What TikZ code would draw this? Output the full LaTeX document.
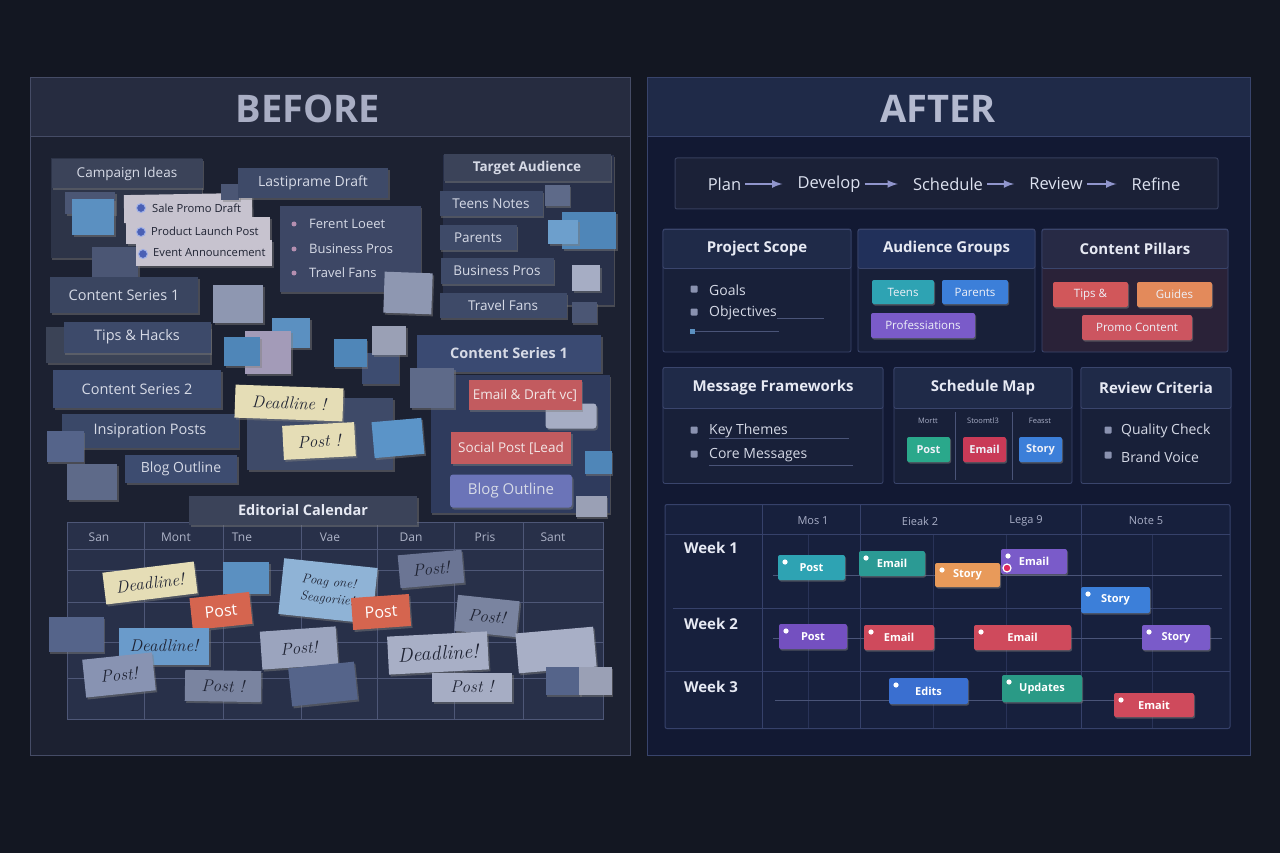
\documentclass[tikz,border=0pt]{standalone}
\usepackage{fontspec}
\setsansfont{Open Sans}
\renewcommand{\familydefault}{\sfdefault}
\usepackage{xcolor}
\usetikzlibrary{shapes,arrows,positioning,calc,shadows,fit}

\definecolor{bg}{HTML}{131722}
\definecolor{bbody}{HTML}{1C2131}
\definecolor{bhead}{HTML}{262C40}
\definecolor{bline}{HTML}{454C66}
\definecolor{btitle}{HTML}{A9AEC4}
\definecolor{abody}{HTML}{121933}
\definecolor{ahead}{HTML}{1F2A48}
\definecolor{aline}{HTML}{38446C}
\definecolor{atitle}{HTML}{B3B9CF}
\definecolor{slate}{HTML}{3B4359}
\definecolor{slatedk}{HTML}{2D3448}
\definecolor{slatedk2}{HTML}{283049}
\definecolor{slateg}{HTML}{3B4356}
\definecolor{navyA}{HTML}{3E4A68}
\definecolor{navyB}{HTML}{3D4C70}
\definecolor{navyC}{HTML}{3A4A72}
\definecolor{navyD}{HTML}{3D4765}
\definecolor{navyE}{HTML}{3A4560}
\definecolor{navyF}{HTML}{3D4A6A}
\definecolor{navyG}{HTML}{3A4868}
\definecolor{navyH}{HTML}{2F3B5D}
\definecolor{dusk}{HTML}{4B5674}
\definecolor{dusk2}{HTML}{5E6A89}
\definecolor{dusk3}{HTML}{55648A}
\definecolor{sky}{HTML}{5B90C1}
\definecolor{sky2}{HTML}{5B94C8}
\definecolor{skylt}{HTML}{6D9FCC}
\definecolor{skydk}{HTML}{4F86B8}
\definecolor{fog}{HTML}{8E97B1}
\definecolor{foglt}{HTML}{A6ADC4}
\definecolor{foggray}{HTML}{9AA0B5}
\definecolor{paper}{HTML}{C7C3CF}
\definecolor{cream}{HTML}{E5DDB6}
\definecolor{rose}{HTML}{C25B5F}
\definecolor{rosetext}{HTML}{F2E6E6}
\definecolor{coral}{HTML}{D5654F}
\definecolor{lilac}{HTML}{A39BB8}
\definecolor{periw}{HTML}{6B74B8}
\definecolor{gridfill}{HTML}{283049}
\definecolor{gridline}{HTML}{4E5777}
\definecolor{tagtext}{HTML}{D6DAE6}
\definecolor{ink}{HTML}{1F2333}
\definecolor{pink}{HTML}{B58FB0}
\definecolor{iconblue}{HTML}{4A60B5}
\definecolor{iconrim}{HTML}{9FB0E8}
\definecolor{daytext}{HTML}{AEB4C8}
\definecolor{notegray}{HTML}{6B7594}
\definecolor{notegray2}{HTML}{7A84A0}
\definecolor{notelt}{HTML}{9BA4BE}
\definecolor{noteltr}{HTML}{A8AFC6}
\definecolor{noteblue}{HTML}{6A9BCB}
\definecolor{notesky}{HTML}{8FB3D6}
\definecolor{notebl}{HTML}{8893B2}
\definecolor{cardbody}{HTML}{182039}
\definecolor{cardhead}{HTML}{1F2A48}
\definecolor{cardline}{HTML}{3A456C}
\definecolor{audhead}{HTML}{21305A}
\definecolor{pillbody}{HTML}{2A2238}
\definecolor{pillhead}{HTML}{272A45}
\definecolor{cardtitle}{HTML}{E6E9F3}
\definecolor{textlt}{HTML}{D5D9E6}
\definecolor{bulletc}{HTML}{8A92B0}
\definecolor{chiptext}{HTML}{EEF0F8}
\definecolor{barfill}{HTML}{1B2137}
\definecolor{barline}{HTML}{363E5C}
\definecolor{stagetext}{HTML}{DDE2F0}
\definecolor{flowline}{HTML}{9095CC}
\definecolor{ganttfill}{HTML}{17203D}
\definecolor{ganttline}{HTML}{36416A}
\definecolor{track}{HTML}{4A5478}
\definecolor{headtext}{HTML}{AAB0C8}
\definecolor{hotpink}{HTML}{E0285A}
\definecolor{chteal}{HTML}{2EA3B3}
\definecolor{chteal2}{HTML}{2B9A94}
\definecolor{chblue}{HTML}{3C7FD9}
\definecolor{chblue2}{HTML}{3A6FD0}
\definecolor{chpurple}{HTML}{7A5BC9}
\definecolor{chviolet}{HTML}{7450C0}
\definecolor{chred}{HTML}{D1575A}
\definecolor{chred2}{HTML}{CF4A5C}
\definecolor{chorange}{HTML}{E38A5B}
\definecolor{chorange2}{HTML}{E89A5A}
\definecolor{chrose}{HTML}{CC5560}
\definecolor{chgreen}{HTML}{2AA88B}
\definecolor{chgreen2}{HTML}{2A9A86}
\definecolor{chcrimson}{HTML}{C93A57}

\newcommand{\fsz}[1]{\fontsize{#1}{#1}\selectfont}
\newcommand{\handfont}{\rmfamily\itshape}

\tikzset{
    sz/.style 2 args={minimum width=#1pt, minimum height=#2pt},
    panel/.style={inner sep=0pt, line width=1pt},
    scrap/.style={inner sep=0pt, drop shadow={opacity=0.45, shadow xshift=1.5pt, shadow yshift=-2pt}},
    tag/.style={scrap, text=tagtext, font=\fsz{13.5}},
    hand/.style={scrap, text=ink, font=\handfont\fsz{17}},
    listtxt/.style={anchor=west, inner sep=0pt, text=ink, font=\fsz{11.2}},
    fanstxt/.style={anchor=west, inner sep=0pt, text=tagtext, font=\fsz{13}},
    icon/.style={circle, fill=iconblue, draw=iconrim, line width=1pt, minimum size=9pt, inner sep=0pt},
    heart/.style={circle, fill=pink, minimum size=5pt, inner sep=0pt},
    dayname/.style={inner sep=0pt, text=daytext, font=\fsz{12}},
    calline/.style={draw=gridline, line width=0.8pt},
    card/.style={draw=cardline, fill=cardbody, rounded corners=2pt, inner sep=0pt, line width=0.8pt},
    cardhd/.style={card, fill=cardhead, text=cardtitle, font=\bfseries\fsz{15}},
    chip/.style={inner sep=0pt, rounded corners=2pt, text=chiptext, font=\fsz{11.5},
        drop shadow={opacity=0.5, shadow xshift=1pt, shadow yshift=-1.5pt}},
    bullet/.style={fill=bulletc, rounded corners=1pt, minimum size=7pt, inner sep=0pt},
    item/.style={anchor=west, inner sep=0pt, text=textlt, font=\fsz{14}},
    stage/.style={inner sep=0pt, text=stagetext, font=\fsz{16.5}},
    flow/.style={-latex, draw=flowline, line width=2.5pt, shorten <=4pt, shorten >=15pt},
    gline/.style={draw=ganttline, line width=0.8pt},
    coltxt/.style={inner sep=0pt, text=headtext, font=\fsz{11}},
    week/.style={inner sep=0pt, text=cardtitle, font=\bfseries\fsz{15}},
    bar/.style={chip, text=white, font=\bfseries\fsz{11},
        path picture={\fill[white] ([xshift=7pt,yshift=-7pt]path picture bounding box.north west) circle (2.6pt);}}
}

\begin{document}
\begin{tikzpicture}[x=1pt, y=-1pt]
    \useasboundingbox (0,0) rectangle (1280,853);
    \fill[bg] (0,0) rectangle (1280,853);

    % ---------------- before
    \node[panel, draw=bline, fill=bbody, sz={600}{677}] (bpanel) at (330,416.5) {};
    \node[panel, draw=bline, fill=bhead, sz={600}{59}] (bhead) at (330,107.5) {};
    \node[inner sep=0pt, text=btitle, font=\bfseries\fsz{38}] (btitle) at (308,109) {BEFORE};

    % campaign ideas
    \node[scrap, fill=slatedk, sz={151}{100}] (ideasbk) at (126,208) {};
    \node[tag, fill=slate, sz={151}{29}] (ideas) at (127,174) {Campaign Ideas};
    \node[scrap, fill=dusk, sz={50}{22}] (sqA) at (90,203) {};
    \node[scrap, fill=sky, sz={42}{36}] (sqB) at (93,217) {};
    \node[scrap, fill=dusk, sz={46}{34}] (sqC) at (115,264) {};
    \node[scrap, fill=paper, sz={128}{28}, rotate=1] (draftA) at (188,208) {};
    \node[scrap, fill=paper, sz={144}{27}] (draftB) at (198,231) {};
    \node[scrap, fill=paper, sz={136}{26}] (draftC) at (204,253) {};
    \node[icon] (iconA) at (141,208) {};
    \node[icon] (iconB) at (141,232) {};
    \node[icon] (iconC) at (143,254) {};
    \node[listtxt] (saleA) at (152,208) {Sale Promo Draft};
    \node[listtxt] (saleB) at (151,231) {Product Launch Post};
    \node[listtxt] (saleC) at (153,253) {Event Announcement};

    % lastiprame draft
    \node[scrap, fill=dusk, sz={18}{16}] (sqD) at (230,192) {};
    \node[tag, fill=navyA, sz={150}{30}, font=\fsz{14}] (lastdraft) at (313,183) {Lastiprame Draft};
    \node[scrap, fill=navyD, sz={141}{86}] (fansbox) at (350,249) {};
    \node[heart] (hA) at (294,224) {};
    \node[heart] (hB) at (294,249) {};
    \node[heart] (hC) at (294,273) {};
    \node[fanstxt] (ferent) at (309,224) {Ferent Loeet};
    \node[fanstxt] (bizA) at (309,249) {Business Pros};
    \node[fanstxt] (travelA) at (309,273) {Travel Fans};
    \node[scrap, fill=fog, sz={48}{41}, rotate=-2] (sqE) at (408,293) {};

    % target audience
    \node[scrap, fill=slatedk2, sz={171}{150}] (audbk) at (528,230) {};
    \node[tag, fill=slate, sz={167}{27}, font=\bfseries\fsz{13.5}] (target) at (527,168) {Target Audience};
    \node[tag, fill=navyA, sz={103}{25}] (teens) at (491,204) {Teens Notes};
    \node[scrap, fill=dusk2, sz={25}{21}] (sqF) at (557,196) {};
    \node[tag, fill=navyA, sz={77}{25}] (parentsA) at (478,238) {Parents};
    \node[scrap, fill=skydk, sz={54}{37}] (sqG) at (589,231) {};
    \node[scrap, fill=skylt, sz={30}{24}] (sqH) at (563,232) {};
    \node[tag, fill=navyA, sz={113}{25}] (bizB) at (497,271) {Business Pros};
    \node[scrap, fill=foglt, sz={28}{25}] (sqI) at (586,278) {};
    \node[tag, fill=navyA, sz={127}{25}] (travelB) at (503,305) {Travel Fans};
    \node[scrap, fill=dusk, sz={25}{21}] (sqJ) at (584,312) {};

    % left column
    \node[tag, fill=navyE, sz={148}{36}, font=\fsz{14.5}] (seriesA) at (124,295) {Content Series 1};
    \node[scrap, fill=fog, sz={50}{38}] (sqK) at (238,304) {};
    \node[scrap, fill=slateg, sz={164}{36}] (tipsbk) at (128,345) {};
    \node[tag, fill=navyF, sz={147}{31}, font=\fsz{14.5}] (tips) at (137,337) {Tips \& Hacks};
    \node[scrap, fill=sky, sz={38}{30}] (sqL) at (291,333) {};
    \node[scrap, fill=lilac, sz={46}{43}] (sqM) at (268,352) {};
    \node[scrap, fill=skydk, sz={36}{29}] (sqN) at (242,351) {};
    \node[tag, fill=navyB, sz={168}{38}, font=\fsz{14.5}] (seriesB) at (137,389) {Content Series 2};
    \node[tag, fill=navyG, sz={177}{34}, font=\fsz{14.5}] (inspire) at (150,431) {Insipration Posts};
    \node[scrap, fill=dusk3, sz={37}{31}] (sqO) at (65,446) {};
    \node[tag, fill=navyB, sz={112}{28}, font=\fsz{14}] (blogA) at (181,469) {Blog Outline};
    \node[scrap, fill=dusk2, sz={50}{36}] (sqP) at (92,482) {};

    % deadline cluster
    \node[scrap, fill=navyA, sz={146}{72}] (postbk) at (320,434) {};
    \node[scrap, fill=navyB, sz={37}{31}] (sqQ) at (380,368) {};
    \node[scrap, fill=skydk, sz={33}{28}] (sqR) at (350,353) {};
    \node[scrap, fill=foggray, sz={34}{29}] (sqS) at (389,340) {};
    \node[hand, fill=cream, sz={108}{33}, rotate=-2] (deadA) at (289,403) {Deadline !};
    \node[hand, fill=cream, sz={72}{34}, rotate=3] (postA) at (319,441) {Post !};
    \node[scrap, fill=sky2, sz={50}{36}, rotate=5] (sqT) at (398,438) {};

    % content series 1, right
    \node[scrap, fill=navyH, sz={179}{138}] (seriesbk) at (520,444) {};
    \node[tag, fill=navyC, sz={184}{37}, font=\bfseries\fsz{14.5}] (seriesC) at (509,353) {Content Series 1};
    \node[scrap, fill=dusk2, sz={44}{40}] (sqU) at (432,388) {};
    \node[scrap, fill=foglt, sz={51}{25}, rounded corners=3pt] (sqV) at (571,416) {};
    \node[tag, fill=rose, sz={113}{30}, text=rosetext] (emaildraft) at (525,395) {Email \& Draft vc]};
    \node[tag, fill=rose, sz={120}{32}, text=rosetext] (social) at (511,448) {Social Post [Lead};
    \node[scrap, fill=skydk, sz={27}{23}] (sqW) at (598,462) {};
    \node[tag, fill=periw, sz={122}{33}, rounded corners=3pt, font=\fsz{15}] (blogB) at (511,491) {Blog Outline};
    \node[scrap, fill=foggray, sz={31}{21}] (sqX) at (591,506) {};

    % editorial calendar
    \node[panel, draw=gridline, fill=gridfill, sz={536}{197}] (cal) at (335,620.5) {};
    \draw[calline] (144,522) -- (144,719) (223,522) -- (223,719) (301,522) -- (301,719)
        (377,522) -- (377,719) (454,522) -- (454,719) (523,522) -- (523,719);
    \draw[calline] (67,549) -- (603,549) (67,570) -- (603,570) (67,602) -- (603,602)
        (67,642) -- (603,642) (67,678) -- (603,678);
    \node[tag, fill=slate, sz={228}{29}, font=\bfseries\fsz{14.5}, text=cardtitle] (calname) at (303,510) {Editorial Calendar};
    \node[dayname] (dSun) at (99,537) {San};
    \node[dayname] (dMon) at (176,537) {Mont};
    \node[dayname] (dTue) at (242,537) {Tne};
    \node[dayname] (dWed) at (330,537) {Vae};
    \node[dayname] (dThu) at (411,537) {Dan};
    \node[dayname] (dFri) at (485,537) {Pris};
    \node[dayname] (dSat) at (553,537) {Sant};

    \node[scrap, fill=sky, sz={46}{32}] (sqY) at (246,578) {};
    \node[hand, fill=cream, sz={92}{32}, rotate=7] (deadB) at (150,583) {Deadline!};
    \node[hand, fill=notesky, sz={94}{56}, rotate=-6, align=center, font=\handfont\fontsize{13}{17}\selectfont] (blogC) at (328,591) {Poag one!\\Seagoriie!};
    \node[hand, fill=notegray, sz={64}{33}, rotate=5] (postB) at (431,569) {Post!};
    \node[scrap, fill=coral, sz={60}{32}, rotate=6, text=white, font=\fsz{16}] (postC) at (221,611) {Post};
    \node[scrap, fill=coral, sz={58}{32}, rotate=4, text=white, font=\fsz{16}] (postD) at (381,612) {Post};
    \node[hand, fill=notegray2, sz={62}{36}, rotate=-6] (postE) at (487,616) {Post!};
    \node[scrap, fill=dusk3, sz={55}{35}] (sqZ) at (76,634) {};
    \node[hand, fill=noteblue, sz={90}{37}] (deadC) at (164,646) {Deadline!};
    \node[hand, fill=notelt, sz={76}{38}, rotate=4] (postF) at (299,648) {Post!};
    \node[hand, fill=noteltr, sz={100}{38}, rotate=3, font=\handfont\fsz{20}] (deadD) at (438,653) {Deadline!};
    \node[scrap, fill=noteltr, sz={78}{40}, rotate=5] (sqAA) at (556,650) {};
    \node[hand, fill=notebl, sz={70}{38}, rotate=6] (postG) at (119,675) {Post!};
    \node[hand, fill=notegray2, sz={76}{31}, rotate=-1] (postH) at (223,686) {Post !};
    \node[scrap, fill=dusk3, sz={66}{38}, rotate=6] (sqAB) at (323,684) {};
    \node[hand, fill=foglt, sz={80}{29}] (postI) at (472,687) {Post !};
    \node[scrap, fill=dusk3, sz={35}{28}] (sqAC) at (563,681) {};
    \node[scrap, fill=foggray, sz={33}{28}] (sqAD) at (595,681) {};

    % ---------------- after
    \node[panel, draw=aline, fill=abody, sz={603}{677}] (apanel) at (948.5,416.5) {};
    \node[panel, draw=aline, fill=ahead, sz={603}{59}] (ahead) at (948.5,107.5) {};
    \node[inner sep=0pt, text=atitle, font=\bfseries\fsz{38}] (atitle) at (938,109) {AFTER};

    % process bar
    \node[panel, draw=barline, fill=barfill, sz={543}{51}, rounded corners=2pt] (procbar) at (946.5,183.5) {};
    \node[stage] (plan) at (724.5,184) {Plan};
    \node[stage] (develop) at (829,184) {Develop};
    \node[stage] (schedule) at (948,184) {Schedule};
    \node[stage] (review) at (1056,184) {Review};
    \node[stage] (refine) at (1156,184) {Refine};
    \draw[flow] (plan) -- (develop);
    \draw[flow] (develop) -- (schedule);
    \draw[flow] (schedule) -- (review);
    \draw[flow] (review) -- (refine);

    % project scope
    \node[card, sz={188}{123}] (scopebox) at (757,290.5) {};
    \node[cardhd, sz={188}{39}] (scope) at (757,249) {Project Scope};
    \node[bullet] (bGoals) at (694,289) {};
    \node[bullet] (bObj) at (694,312) {};
    \node[item] (goals) at (709,290) {Goals};
    \node[item] (objectives) at (709,313) {Objectives};
    \draw[track] (objectives.east |- 0,318) -- (824,318);
    \node[fill=sky, minimum size=5pt, inner sep=0pt] (bMore) at (692,331) {};
    \draw[track] (bMore) -- (779,331);

    % audience groups
    \node[card, sz={177}{123}] (audbox) at (946.5,290.5) {};
    \node[cardhd, fill=audhead, sz={177}{39}] (audience) at (946.5,249) {Audience Groups};
    \node[chip, fill=chteal, sz={62}{24}] (teensB) at (903,292) {Teens};
    \node[chip, fill=chblue, sz={66}{24}] (parentsB) at (975,292) {Parents};
    \node[chip, fill=chpurple, sz={104}{25}] (profs) at (923,325.5) {Professiations};

    % content pillars
    \node[card, fill=pillbody, sz={186}{123}] (pillbox) at (1135,290.5) {};
    \node[cardhd, fill=pillhead, sz={186}{39}] (pillars) at (1135,249) {Content Pillars};
    \node[chip, fill=chred, sz={75}{25}] (tipsB) at (1090.5,294.5) {Tips \&};
    \node[chip, fill=chorange, sz={75}{25}] (guides) at (1174.5,294.5) {Guides};
    \node[chip, fill=chrose, sz={110}{25}] (promo) at (1137,327.5) {Promo Content};

    % message frameworks
    \node[card, sz={220}{116}] (msgbox) at (773,425.5) {};
    \node[cardhd, sz={220}{41}] (frameworks) at (773,388) {Message Frameworks};
    \node[bullet] (bThemes) at (694,430) {};
    \node[bullet] (bCore) at (694,454) {};
    \node[item] (themes) at (709,431) {Key Themes};
    \node[item] (coremsg) at (709,455) {Core Messages};
    \draw[track] (709,438) -- (849,438);
    \draw[track] (709,465) -- (853,465);

    % schedule map
    \node[card, sz={178}{116}] (mapbox) at (983,425.5) {};
    \node[cardhd, sz={178}{41}] (schedmap) at (983,388) {Schedule Map};
    \draw[track] (955,412) -- (955,480) (1012,412) -- (1012,480);
    \node[coltxt, font=\fsz{7.5}] (mapA) at (928,421) {Mortt};
    \node[coltxt, font=\fsz{7.5}] (mapB) at (983,421) {Stoomtl3};
    \node[coltxt, font=\fsz{7.5}] (mapC) at (1040,421) {Feasst};
    \node[chip, fill=chgreen, sz={43}{25}, font=\bfseries\fsz{11}] (mapPost) at (928.5,449.5) {Post};
    \node[chip, fill=chcrimson, sz={43}{25}, font=\bfseries\fsz{11}] (mapEmail) at (984.5,449.5) {Email};
    \node[chip, fill=chblue, sz={43}{25}, font=\bfseries\fsz{11}] (mapStory) at (1040.5,449.5) {Story};

    % review criteria
    \node[card, sz={150}{116}] (critbox) at (1156,425.5) {};
    \node[cardhd, sz={150}{41}] (criteria) at (1156,388) {Review Criteria};
    \node[bullet] (bQuality) at (1108,430) {};
    \node[bullet] (bVoice) at (1108,455) {};
    \node[item] (quality) at (1121,431) {Quality Check};
    \node[item] (voice) at (1121,457) {Brand Voice};

    % timeline
    \node[panel, draw=ganttline, fill=ganttfill, sz={565}{224}, rounded corners=2pt] (gantt) at (947.5,616.5) {};
    \draw[gline] (665,534) -- (1230,534);
    \draw[gline] (673,608) -- (1222,608) (666,671) -- (1230,671);
    \draw[gline] (762,505) -- (762,728) (860,505) -- (860,728) (1081,505) -- (1081,728);
    \draw[gline, opacity=0.6] (808,534) -- (808,728) (933,534) -- (933,728)
        (1006,534) -- (1006,728) (1152,534) -- (1152,728);
    \draw[track] (773,575) -- (1222,575) (773,638) -- (1222,638) (775,700) -- (1115,700);
    \node[coltxt] (colA) at (813,521) {Mos 1};
    \node[coltxt] (colB) at (920,521) {Eieak 2};
    \node[coltxt] (colC) at (1026,521) {Lega 9};
    \node[coltxt] (colD) at (1146,521) {Note 5};
    \node[week] (wk1) at (711,548) {Week 1};
    \node[week] (wk2) at (711,624) {Week 2};
    \node[week] (wk3) at (711,687) {Week 3};

    \node[bar, fill=chteal, sz={67}{25}] (w1post) at (811.5,567.5) {Post};
    \node[bar, fill=chteal2, sz={66}{25}] (w1email) at (892,563.5) {Email};
    \node[bar, fill=chorange2, sz={65}{24}] (w1story) at (967.5,575) {Story};
    \node[bar, fill=chpurple, sz={66}{25}] (w1email2) at (1034,561.5) {Email};
    \node[circle, fill=hotpink, draw=white, line width=1.2pt, minimum size=8pt, inner sep=0pt] (w1mark) at (1007,568) {};
    \node[bar, fill=chblue, sz={69}{26}] (w1story2) at (1115.5,600) {Story};
    \node[bar, fill=chviolet, sz={68}{25}] (w2post) at (813,636.5) {Post};
    \node[bar, fill=chred2, sz={70}{25}] (w2email) at (899,637.5) {Email};
    \node[bar, fill=chred2, sz={97}{25}] (w2email2) at (1022.5,637.5) {Email};
    \node[bar, fill=chpurple, sz={68}{25}] (w2story) at (1176,637.5) {Story};
    \node[bar, fill=chblue2, sz={79}{26}] (w3edits) at (928.5,691) {Edits};
    \node[bar, fill=chgreen2, sz={80}{27}] (w3updates) at (1042,688.5) {Updates};
    \node[bar, fill=chred2, sz={80}{24}] (w3emait) at (1154,705) {Emait};
\end{tikzpicture}
\end{document}
